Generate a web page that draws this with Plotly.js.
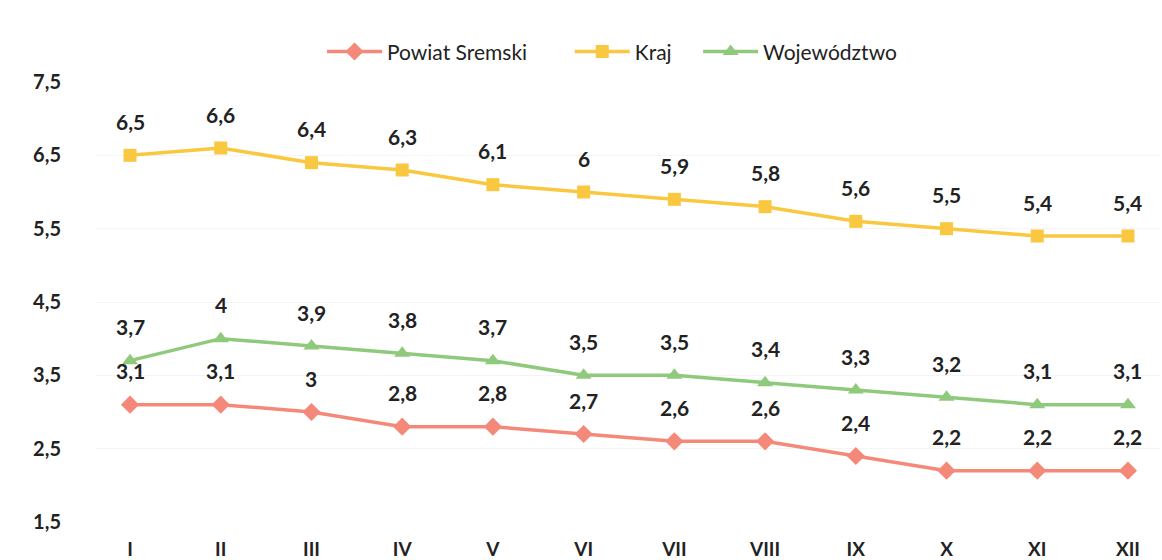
<!DOCTYPE html>
<html><head><meta charset="utf-8">
<script src="https://cdn.plot.ly/plotly-3.0.1.min.js"></script>
<style>html,body{margin:0;padding:0;background:#fff}#c{width:1162px;height:560px}</style>
</head><body><div id="c"></div>
<script>
var months = ['I','II','III','IV','V','VI','VII','VIII','IX','X','XI','XII'];
var powiat = [3.1,3.1,3.0,2.8,2.8,2.7,2.6,2.6,2.4,2.2,2.2,2.2];
var kraj = [6.5,6.6,6.4,6.3,6.1,6.0,5.9,5.8,5.6,5.5,5.4,5.4];
var woj = [3.7,4.0,3.9,3.8,3.7,3.5,3.5,3.4,3.3,3.2,3.1,3.1];
var seriesNames = ['Powiat Sremski','Kraj','Województwo'];

var colors = ['#f4897a','#f9c840','#8fc97c'];
var symbols = ['diamond','square','triangle-up'];
var sizes = [14,13,14];
var data = [powiat,kraj,woj];
var idx = months.map(function(_,i){return i;});
var pads = ['\u00a0\u00a0\u00a0\u00a0\u00a0\u00a0\u00a0', '\u00a0\u00a0\u00a0\u00a0', ''];

var traces = data.map(function(vals,k){
  return {x: idx, y: vals, name: seriesNames[k] + pads[k], type:'scatter', mode:'lines+markers',
    line:{color:colors[k], width:3.5}, marker:{symbol:symbols[k], size:sizes[k], color:colors[k]},
    hoverinfo:'none'};
});

var FONT = 'Lato, "Open Sans", sans-serif';
var annotations = [];
data.forEach(function(vals){
  vals.forEach(function(v,i){
    annotations.push({x:i, y:v, xref:'x', yref:'y', text:String(v).replace('.',','),
      showarrow:false, yshift:34, font:{family:FONT, size:21, color:'#222', weight:700}});
  });
});

var layout = {
  width:1162, height:560,
  margin:{l:95, r:2, t:82, b:38},
  paper_bgcolor:'#fff', plot_bgcolor:'#fff',
  separators:', ',
  showlegend:true,
  legend:{orientation:'h', x:0.5267, xanchor:'center', xref:'container', y:0.944, yref:'container', yanchor:'top',
    font:{family:FONT, size:21, color:'#222'}, itemwidth:55, tracegroupgap:0},
  xaxis:{type:'linear', range:[-0.386, 11.353], tickmode:'array', tickvals:idx, ticktext:months,
    showgrid:false, zeroline:false, showline:false, ticks:'', ticklabelstandoff:14,
    tickfont:{family:FONT, size:19, color:'#222', weight:700}},
  yaxis:{range:[1.5,7.5], dtick:1, tick0:1.5, tickformat:'.1f', showgrid:true, gridcolor:'#f4f4f4',
    zeroline:false, showline:false, ticks:'', ticklabelstandoff:33,
    tickfont:{family:FONT, size:20, color:'#222', weight:700}},
  annotations: annotations
};
Plotly.newPlot('c', traces, layout, {displayModeBar:false, staticPlot:true});
</script></body></html>
